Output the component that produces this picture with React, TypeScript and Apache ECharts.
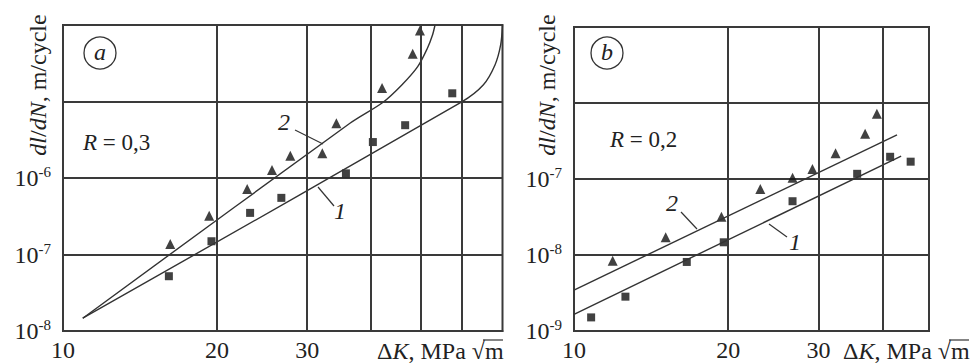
import React, { useEffect, useRef } from 'react';
import * as echarts from 'echarts';

const FONT = 'Liberation Serif';
const INK = '#222';
const GRIDC = '#3a3a3a';

// ---------- Panel a (R = 0,3) ----------
const aTriangles: number[][] = [
  [16.2, 1.37e-7], [19.3, 3.2e-7], [22.9, 7.2e-7], [25.6, 1.27e-6], [27.8, 1.96e-6],
  [32.1, 2.1e-6], [34.2, 5.2e-6], [42.0, 1.5e-5], [48.2, 4.2e-5], [49.8, 8.5e-5],
];
const aSquares: number[][] = [
  [16.1, 5.2e-8], [19.5, 1.49e-7], [23.2, 3.5e-7], [26.7, 5.5e-7],
  [35.7, 1.15e-6], [40.3, 2.95e-6], [46.6, 4.9e-6], [57.6, 1.28e-5],
];
const aCurve1: number[][] = [
  [10.93, 1.47e-8], [60, 9.8e-6], [66.2, 1.64e-5], [69.8, 3.0e-5], [71.6, 5.48e-5], [72.2, 1.0e-4],
];
const aCurve2: number[][] = [
  [10.93, 1.47e-8], [36.35, 5.19e-6], [42.2, 9.77e-6], [45.9, 1.64e-5], [49.3, 2.85e-5],
  [51.5, 4.96e-5], [52.7, 7.4e-5], [53.3, 1.0e-4],
];
const aXGridValues = [20, 30, 40, 50, 60];
const aXTickLabels = [10, 20, 30];
const aYLabelExponents = [-8, -7, -6];

// ---------- Panel b (R = 0,2) ----------
const bTriangles: number[][] = [
  [11.9, 8.4e-9], [15.1, 1.71e-8], [19.4, 3.19e-8], [23.1, 7.4e-8], [26.7, 1.04e-7],
  [29.2, 1.35e-7], [32.4, 2.19e-7], [37.0, 3.95e-7], [39.0, 7.2e-7],
];
const bSquares: number[][] = [
  [10.8, 1.51e-9], [12.6, 2.83e-9], [16.6, 8.1e-9], [19.6, 1.47e-8],
  [26.7, 5.1e-8], [35.7, 1.17e-7], [41.4, 1.96e-7], [45.4, 1.69e-7],
];
const bLine1: number[][] = [[10, 1.66e-9], [43.5, 2.0e-7]];
const bLine2: number[][] = [[10, 3.46e-9], [42.7, 3.8e-7]];
const bXGridValues = [20, 30, 40];
const bXTickLabels = [10, 20, 30];
const bYLabelExponents = [-9, -8, -7];

function yAxisFor(gridIndex: number, min: number, max: number, shown: number[]) {
  return {
    type: 'log',
    logBase: 10,
    gridIndex,
    min,
    max,
    axisLine: { show: true, lineStyle: { color: GRIDC, width: 2 } },
    axisTick: { show: false },
    splitLine: { show: true, lineStyle: { color: GRIDC, width: 2 } },
    axisLabel: {
      margin: 12,
      formatter: (v: number) => {
        const e = Math.round(Math.log10(v));
        return shown.includes(e) ? `{b|10}{s|${e}}` : '';
      },
      rich: {
        b: { fontSize: 24, lineHeight: 24, fontFamily: FONT, color: INK },
        s: { fontSize: 15, lineHeight: 15, fontFamily: FONT, color: INK, padding: [0, 0, 12, 0] },
      },
    },
  };
}

function xAxisFor(gridIndex: number, min: number, max: number) {
  return {
    type: 'log',
    logBase: 10,
    gridIndex,
    min,
    max,
    axisLine: { show: true, lineStyle: { color: GRIDC, width: 2 } },
    axisTick: { show: false },
    axisLabel: { show: false },
    splitLine: { show: false },
  };
}

function gridMarkLine(gridVals: number[], labels: number[]) {
  const all = Array.from(new Set([...labels, ...gridVals])).sort((p, q) => p - q);
  return {
    silent: true,
    symbol: ['none', 'none'],
    animation: false,
    lineStyle: { color: GRIDC, width: 2, type: 'solid' },
    data: all.map((v) => ({
      xAxis: v,
      lineStyle: { width: gridVals.includes(v) ? 2 : 0 },
      label: labels.includes(v)
        ? { show: true, formatter: String(v), position: 'start', distance: 7, fontSize: 24, fontFamily: FONT, color: INK }
        : { show: false },
    })),
  };
}

function lineSeries(data: number[][], xi: number, smooth: number | boolean) {
  return {
    type: 'line',
    xAxisIndex: xi,
    yAxisIndex: xi,
    data,
    showSymbol: false,
    smooth,
    clip: true,
    silent: true,
    lineStyle: { color: '#333', width: 1.4 },
  };
}

function scatter(data: number[][], xi: number, symbol: string, size: number, ml?: any) {
  const s: any = {
    type: 'scatter',
    xAxisIndex: xi,
    yAxisIndex: xi,
    data,
    symbol,
    symbolSize: size,
    itemStyle: { color: '#111' },
    silent: true,
  };
  if (ml) s.markLine = ml;
  return s;
}

function txt(x: number, y: number, rich: string, opts: any = {}) {
  const fs = opts.fontSize || 24;
  return {
    type: 'text',
    x,
    y,
    rotation: opts.rotation || 0,
    style: {
      text: rich,
      fill: INK,
      fontFamily: FONT,
      fontSize: fs,
      fontStyle: opts.fontStyle || 'normal',
      align: opts.align || 'center',
      verticalAlign: 'middle',
      rich: {
        i: { fontStyle: 'italic', fontFamily: FONT, fontSize: fs, fill: INK },
        n: { fontFamily: FONT, fontSize: fs, fill: INK },
      },
    },
  };
}

function seg(x1: number, y1: number, x2: number, y2: number) {
  return { type: 'line', shape: { x1, y1, x2, y2 }, style: { stroke: '#333', lineWidth: 1.2 } };
}

function circ(cx: number, cy: number) {
  return { type: 'circle', shape: { cx, cy, r: 16 }, style: { fill: 'none', stroke: '#333', lineWidth: 1.3 } };
}

export default function App() {
  const ref = useRef<HTMLDivElement>(null);
  useEffect(() => {
    if (!ref.current) return;
    document.body.style.margin = '0';
    const chart = echarts.init(ref.current, undefined, { renderer: 'svg' });
    chart.setOption({
      animation: false,
      backgroundColor: '#fff',
      grid: [
        { left: 63, top: 25, width: 439.5, height: 306, show: true, borderColor: GRIDC, borderWidth: 2, containLabel: false },
        { left: 574, top: 27, width: 355, height: 304, show: true, borderColor: GRIDC, borderWidth: 2, containLabel: false },
      ],
      xAxis: [xAxisFor(0, 10, 72.2), xAxisFor(1, 10, 49.3)],
      yAxis: [yAxisFor(0, 1e-8, 1e-4, aYLabelExponents), yAxisFor(1, 1e-9, 1e-5, bYLabelExponents)],
      series: [
        scatter(aSquares, 0, 'rect', 8, gridMarkLine(aXGridValues, aXTickLabels)),
        scatter(aTriangles, 0, 'triangle', 10),
        lineSeries(aCurve1, 0, 0.3),
        lineSeries(aCurve2, 0, 0.3),
        scatter(bSquares, 1, 'rect', 8, gridMarkLine(bXGridValues, bXTickLabels)),
        scatter(bTriangles, 1, 'triangle', 10),
        lineSeries(bLine1, 1, false),
        lineSeries(bLine2, 1, false),
      ],
      graphic: [
        // panel a
        circ(100, 53),
        txt(100, 52, 'a', { fontStyle: 'italic' }),
        txt(83, 142, '{i|R}{n| = 0,3}', { align: 'left', fontSize: 23 }),
        txt(284, 122, '2', { fontStyle: 'italic' }),
        txt(340, 211, '1', { fontStyle: 'italic' }),
        seg(295, 130, 323, 144),
        seg(318, 187, 334, 206),
        txt(38, 85, '{i|dl}{n|/}{i|dN}{n|, m/cycle}', { rotation: Math.PI / 2 }),
        txt(377, 351, '{n|Δ}{i|K}{n|, MPa √m}', { align: 'left' }),
        seg(483, 340, 503, 340),
        // panel b
        circ(607, 53),
        txt(607, 52, 'b', { fontStyle: 'italic' }),
        txt(610, 139, '{i|R}{n| = 0,2}', { align: 'left', fontSize: 23 }),
        txt(672, 203, '2', { fontStyle: 'italic' }),
        txt(795, 242, '1', { fontStyle: 'italic' }),
        seg(681, 212, 697, 229),
        seg(769, 224, 787, 237),
        txt(547, 85, '{i|dl}{n|/}{i|dN}{n|, m/cycle}', { rotation: Math.PI / 2 }),
        txt(843, 351, '{n|Δ}{i|K}{n|, MPa √m}', { align: 'left' }),
        seg(949, 340, 969, 340),
      ],
    });
    return () => chart.dispose();
  }, []);
  return <div ref={ref} style={{ width: 971, height: 363, position: 'fixed', left: 0, top: 0 }} />;
}
